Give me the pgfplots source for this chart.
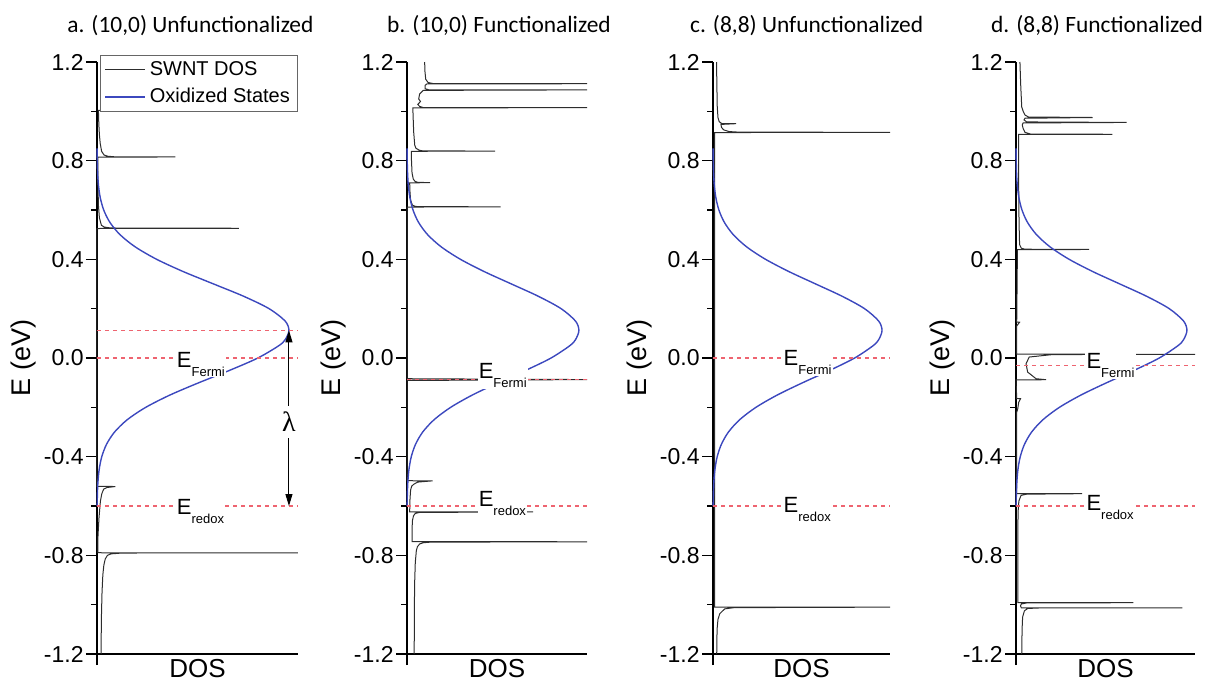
\documentclass[border=0pt]{standalone}
\usepackage{pgfplots}
\pgfplotsset{compat=1.18}
\usepackage{pgfplotstable}
\usepackage{fontspec}
\setmainfont{Liberation Sans}
\newfontfamily\carlito{Carlito}
\newfontfamily\lserif{Liberation Serif}
\usetikzlibrary{arrows.meta}
\definecolor{dosc}{RGB}{45,45,45}
\definecolor{oxc}{RGB}{60,72,190}
\definecolor{redc}{RGB}{238,100,112}

\pgfplotstableread{
x E
0.0008 -0.60
0.0020 -0.55
0.0049 -0.50
0.0112 -0.45
0.0238 -0.40
0.0473 -0.35
0.0874 -0.30
0.1508 -0.25
0.2425 -0.20
0.3632 -0.15
0.5071 -0.10
0.6599 -0.05
0.8003 0.00
0.9047 0.05
0.9367 0.075
0.9550 0.112
0.9358 0.15
0.8562 0.20
0.7304 0.25
0.5805 0.30
0.4300 0.35
0.2971 0.40
0.1911 0.45
0.1146 0.50
0.0641 0.55
0.0334 0.60
0.0162 0.65
0.0073 0.70
0.0031 0.75
0.0012 0.80
0.0004 0.85
}\oxtable

\pgfplotsset{
 panel/.style={
  scale only axis, height=296pt, ymin=-1.2, ymax=1.2, xmin=0, xmax=1,
  axis lines=left, axis line style={line width=0.9pt,-},
  ytick={-1.2,-0.8,-0.4,0,0.4,0.8,1.2},
  yticklabels={-1.2,-0.8,-0.4,0.0,0.4,0.8,1.2},
  minor ytick={-1,-0.6,-0.2,0.2,0.6,1},
  xtick={0}, xticklabels={},
  tick align=outside, major tick length=5.5pt, minor tick length=3pt,
  every tick/.style={line width=0.8pt, black},
  yticklabel style={font=\fontsize{11.5}{13}\selectfont, inner sep=1pt},
  xlabel={DOS}, ylabel={E (eV)},
  xlabel style={at={(axis description cs:0.5,0)}, anchor=north, yshift=-2.5pt, font=\fontsize{13}{15}\selectfont, inner sep=0pt},
  ylabel style={at={([xshift=-36.5pt]axis description cs:0,0.5)}, anchor=center, font=\fontsize{13.5}{15}\selectfont},
  clip=false,
 },
 dos/.style={color=dosc, line width=0.5pt},
 ox/.style={color=oxc, line width=0.7pt, smooth},
 rd/.style={color=redc, line width=0.6pt, dash pattern=on 2pt off 2pt},
}
\tikzset{lab/.style={anchor=base west, fill=white, inner sep=0.6pt, font=\fontsize{11}{13}\selectfont}}
\newcommand{\sub}[1]{\raisebox{-4.5pt}{\fontsize{6.5}{7}\selectfont #1}}

\begin{document}
\begin{tikzpicture}
\path[use as bounding box] (0,0) rectangle (603pt,341pt);

% ---------- panel a ----------
\begin{axis}[panel, width=100.5pt, at={(48.5pt,14pt)}, anchor=south west,
  legend style={at={(axis description cs:0.015,1.012)}, anchor=north west, draw=black!60, fill=white, line width=0.4pt, font=\fontsize{10}{12}\selectfont, inner xsep=2pt, inner ysep=1pt, row sep=1pt, cells={anchor=west}},
  legend image code/.code={\draw[#1] (0pt,0pt) -- (20pt,0pt);}]
\addplot[dos] coordinates {
(0.020,-1.2) (0.022,-1.05) (0.025,-0.95) (0.029,-0.88) (0.034,-0.84) (0.041,-0.815) (0.052,-0.80) (0.07,-0.794) (0.11,-0.7915) (0.2,-0.7905) (1.0,-0.790) (0.004,-0.7895)
(0.005,-0.72) (0.010,-0.647) (0.017,-0.58) (0.024,-0.55) (0.033,-0.532) (0.05,-0.525) (0.091,-0.521) (0.0,-0.5205)
(0.0,0.525) (0.706,0.526) (0.11,0.5265) (0.06,0.528) (0.036,0.531) (0.022,0.538) (0.012,0.568) (0.007,0.62) (0.005,0.70) (0.004,0.80) (0.004,0.8145)
(0.39,0.815) (0.09,0.8155) (0.053,0.818) (0.035,0.823) (0.023,0.838) (0.016,0.87) (0.012,0.905) (0.009,0.95) (0.007,1.004)
(0.487,1.005) (0.09,1.0055) (0.06,1.008) (0.04,1.012) (0.03,1.02) (0.024,1.05) (0.02,1.1) (0.018,1.2)};
\addlegendentry{SWNT DOS}
\addplot[ox] table[x=x,y=E] {\oxtable};
\addlegendentry{Oxidized States}
\addplot[rd, forget plot] coordinates {(0,0.112) (1,0.112)};
\addplot[rd, forget plot] coordinates {(0,0) (1,0)};
\addplot[rd, forget plot] coordinates {(0,-0.6) (1,-0.6)};
\node[lab] at (axis cs:0.39,-0.037) {E\sub{Fermi}};
\node[lab] at (axis cs:0.39,-0.634) {E\sub{redox}};
\draw[{Triangle[length=6pt,width=3.5pt]}-{Triangle[length=6pt,width=3.5pt]}, line width=0.5pt] (axis cs:0.955,0.112) -- (axis cs:0.955,-0.6);
\node[fill=white, inner xsep=1pt, inner ysep=3pt, font=\lserif\fontsize{14}{16}\selectfont] at (axis cs:0.955,-0.26) {λ};
\end{axis}

% ---------- panel b ----------
\begin{axis}[panel, width=90pt, at={(203.5pt,14pt)}, anchor=south west]
\addplot[dos] coordinates {
(0.040,-1.2) (0.041,-1.0) (0.043,-0.9) (0.046,-0.83) (0.052,-0.78) (0.058,-0.765) (0.070,-0.754) (0.09,-0.749) (0.13,-0.7465) (1.0,-0.745)
(0.028,-0.7445) (0.028,-0.70) (0.030,-0.66) (0.036,-0.64) (0.046,-0.630) (0.07,-0.626) (0.70,-0.624)
(0.015,-0.6235) (0.016,-0.58) (0.020,-0.535) (0.026,-0.52) (0.037,-0.512) (0.06,-0.503) (0.142,-0.498) (0.0,-0.4975)
(0.0,-0.091) (1.0,-0.0875) (0.0,-0.084)
(0.0,0.612) (0.52,0.613) (0.06,0.6135) (0.045,0.615) (0.03,0.62) (0.02,0.64) (0.016,0.68) (0.015,0.71)
(0.128,0.711) (0.06,0.712) (0.045,0.716) (0.035,0.725) (0.028,0.75) (0.025,0.80) (0.024,0.838)
(0.489,0.839) (0.09,0.8395) (0.07,0.842) (0.05,0.85) (0.043,0.863) (0.037,0.917) (0.033,1.0) (0.033,1.014)
(1.0,1.015) (0.09,1.0155) (0.07,1.02) (0.06,1.028) (0.075,1.04) (0.065,1.05) (0.07,1.07) (0.09,1.085)
(1.0,1.087) (0.12,1.0875) (0.10,1.092) (0.10,1.105) (0.11,1.111)
(1.0,1.112) (0.145,1.1125) (0.117,1.117) (0.104,1.13) (0.10,1.16) (0.098,1.2)};
\addplot[ox] table[x=x,y=E] {\oxtable};
\addplot[rd] coordinates {(0,-0.0875) (1,-0.0875)};
\addplot[rd] coordinates {(0,-0.6) (1,-0.6)};
\node[lab] at (axis cs:0.39,-0.084) {E\sub{Fermi}};
\node[lab] at (axis cs:0.39,-0.603) {E\sub{redox}};
\end{axis}

% ---------- panel c ----------
\begin{axis}[panel, width=88.5pt, at={(356.5pt,14pt)}, anchor=south west]
\addplot[dos] coordinates {
(0.021,-1.2) (0.023,-1.1) (0.028,-1.06) (0.038,-1.037) (0.066,-1.017) (0.12,-1.012) (1.0,-1.010)
(0.009,-1.0095) (0.009,0.914)
(1.0,0.915) (0.15,0.9155) (0.09,0.918) (0.06,0.925) (0.048,0.935) (0.045,0.947)
(0.13,0.95) (0.05,0.9505) (0.035,0.958) (0.028,0.975) (0.024,1.02) (0.022,1.1) (0.020,1.2)};
\addplot[ox] table[x=x,y=E] {\oxtable};
\addplot[rd] coordinates {(0,0) (1,0)};
\addplot[rd] coordinates {(0,-0.6) (1,-0.6)};
\node[lab] at (axis cs:0.39,-0.03) {E\sub{Fermi}};
\node[lab] at (axis cs:0.39,-0.625) {E\sub{redox}};
\end{axis}

% ---------- panel d ----------
\begin{axis}[panel, width=89.5pt, at={(508pt,14pt)}, anchor=south west]
\addplot[dos] coordinates {
(0.032,-1.2) (0.034,-1.1) (0.037,-1.05) (0.047,-1.025) (0.065,-1.0155) (0.12,-1.0135) (0.93,-1.013)
(0.03,-1.0125) (0.025,-1.005) (0.03,-0.997) (0.06,-0.993) (0.655,-0.992) (0.01,-0.9915)
(0.01,-0.70) (0.012,-0.62) (0.016,-0.58) (0.028,-0.557) (0.06,-0.552) (0.37,-0.55) (0.004,-0.5495)
(0.004,-0.22) (0.01,-0.205) (0.015,-0.18) (0.025,-0.165) (0.004,-0.164)
(0.0,-0.089) (0.168,-0.088) (0.112,-0.084) (0.065,-0.057) (0.056,-0.023) (0.074,0.004) (0.205,0.014) (1.0,0.015) (0.004,0.0155)
(0.004,0.13) (0.02,0.145) (0.004,0.146)
(0.008,0.439) (0.408,0.44) (0.05,0.441) (0.03,0.445) (0.02,0.46) (0.017,0.55) (0.015,0.7) (0.015,0.9065)
(0.538,0.907) (0.08,0.908) (0.05,0.915) (0.04,0.93) (0.035,0.945) (0.04,0.953)
(0.618,0.955) (0.06,0.957) (0.045,0.965) (0.05,0.972)
(0.428,0.975) (0.07,0.977) (0.05,0.985) (0.04,1.0) (0.032,1.018) (0.026,1.112) (0.022,1.2)};
\addplot[ox] table[x=x,y=E] {\oxtable};
\addplot[rd] coordinates {(0,-0.03) (1,-0.03)};
\addplot[rd] coordinates {(0,-0.6) (1,-0.6)};
\node[lab] at (axis cs:0.385,-0.042) {E\sub{Fermi}};
\node[lab] at (axis cs:0.385,-0.62) {E\sub{redox}};
\end{axis}

% ---------- titles ----------
\node[anchor=base, font=\carlito\fontsize{11.7}{14}\selectfont] at (95.2pt,324.9pt) {a. (10,0) Unfunctionalized};
\node[anchor=base, font=\carlito\fontsize{11.7}{14}\selectfont] at (249.5pt,324.9pt) {b. (10,0) Functionalized};
\node[anchor=base, font=\carlito\fontsize{11.7}{14}\selectfont] at (403.3pt,324.9pt) {c. (8,8) Unfunctionalized};
\node[anchor=base, font=\carlito\fontsize{11.7}{14}\selectfont] at (548.5pt,324.9pt) {d. (8,8) Functionalized};
\end{tikzpicture}
\end{document}
